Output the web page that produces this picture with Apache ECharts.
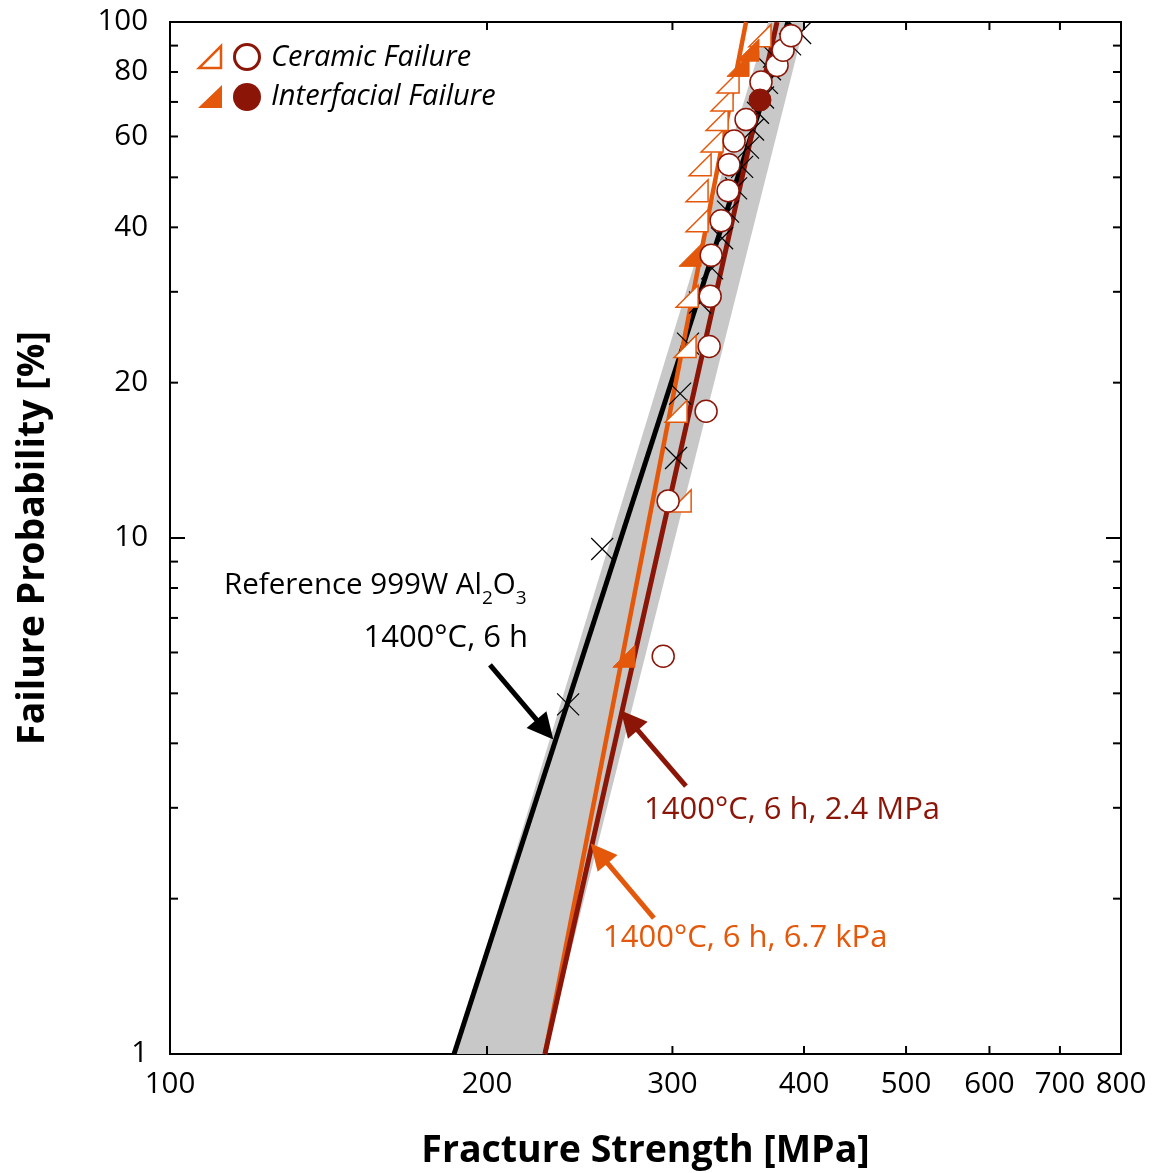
<!DOCTYPE html>
<html><head><meta charset="utf-8">
<script src="https://cdn.jsdelivr.net/npm/echarts@6/dist/echarts.min.js"></script>
<style>html,body{margin:0;padding:0;background:#fff}#c{width:1156px;height:1173px}</style>
</head><body><div id="c"></div>
<script>
// ---- axes ----
const xTickValues = [200, 300, 400, 500, 600, 700];
const xLabelValues = [100, 200, 300, 400, 500, 600, 700, 800];
const xLabelTexts = ['100', '200', '300', '400', '500', '600', '700', '800'];
const yMajorTicks = [10];
const yMinorTicks = [2, 3, 4, 5, 6, 7, 8, 9, 20, 30, 40, 50, 60, 70, 80, 90];
const yLabelValues = [1, 10, 20, 40, 60, 80, 100];
const yLabelTexts = ['1', '10', '20', '40', '60', '80', '100'];

// ---- data (strength MPa, failure probability %) ----
const triOpenStrength = [305.1, 302.4, 308.4, 309.8, 316.6, 316.6, 318.7, 327.2, 330.8, 334.4, 338.8, 363.3];
const triOpenProb     = [11.8, 17.6, 23.5, 29.4, 41.2, 47.1, 52.9, 58.8, 64.7, 70.6, 76.5, 94.1];
const triFilledStrength = [269.8, 311.8, 346.3, 353.9];
const triFilledProb     = [5.9, 35.3, 82.4, 88.2];
const circOpenStrength = [294.0, 297.2, 322.9, 325.1, 325.8, 326.5, 333.7, 338.8, 339.5, 343.3, 352.4, 364.1, 377.1, 382.1, 388.8];
const circOpenProb     = [5.9, 11.8, 17.6, 23.5, 29.4, 35.3, 41.2, 47.1, 52.9, 58.8, 64.7, 76.5, 82.4, 88.2, 94.1];
const circFilledStrength = [363.3];
const circFilledProb     = [70.6];
const refStrength = [238.8, 257.3, 302.4, 305.1, 310.4, 318.7, 327.2, 334.4, 338.8, 344.8, 349.4, 353.9, 357.8, 361.7, 365.7, 368.9, 371.3, 374.6, 388.0, 396.6];
const refProb     = [4.76, 9.52, 14.29, 19.05, 23.8, 28.6, 33.3, 38.1, 42.9, 47.6, 52.4, 57.1, 61.9, 66.7, 71.4, 76.2, 81.0, 85.7, 90.5, 95.2];

// fitted lines (end points)
const fitProb = [1, 100];
const refFitStrength = [186.1, 386.2];
const kpaFitStrength = [227.0, 352.4];
const mpaFitStrength = [227.0, 377.1];
const bandLeftStrength = [186.1, 369.8];
const bandRightStrength = [227.0, 400.9];

// annotation arrows [tail, head]
const refArrow = [[201.3, 5.675], [227.0, 4.254]];
const mpaArrow = [[309.0, 3.306], [273.0, 4.433]];
const kpaArrow = [[288.1, 1.834], [255.6, 2.448]];

const FONT = '"Open Sans", "Noto Sans", sans-serif';
const ORANGE = '#E4580B';
const DARKRED = '#8B1608';
const pairs = (a, b) => a.map((v, i) => [v, b[i]]);

const chart = echarts.init(document.getElementById('c'), null, {renderer: 'canvas'});

function xTickRender(params, api) {
  const cs = params.coordSys;
  const x = api.coord([api.value(0), 1])[0];
  const b = cs.y + cs.height, t = cs.y;
  return {type: 'group', children: [
    {type: 'line', shape: {x1: x, y1: b, x2: x, y2: b - 8}, style: {stroke: '#000', lineWidth: 2}},
    {type: 'line', shape: {x1: x, y1: t, x2: x, y2: t + 8}, style: {stroke: '#000', lineWidth: 2}}
  ]};
}
function xLabelRender(params, api) {
  const cs = params.coordSys;
  const x = api.coord([api.value(0), 1])[0];
  return {type: 'text', style: {text: xLabelTexts[params.dataIndex], x: x, y: cs.y + cs.height + 16,
    fill: '#000', fontSize: 29.5, fontFamily: FONT, align: 'center', verticalAlign: 'top'}};
}
function yTickRender(len) {
  return function (params, api) {
    const cs = params.coordSys;
    const y = api.coord([100, api.value(1)])[1];
    const l = cs.x, r = cs.x + cs.width;
    return {type: 'group', children: [
      {type: 'line', shape: {x1: l, y1: y, x2: l + len, y2: y}, style: {stroke: '#000', lineWidth: 2}},
      {type: 'line', shape: {x1: r, y1: y, x2: r - len, y2: y}, style: {stroke: '#000', lineWidth: 2}}
    ]};
  };
}
function yLabelRender(params, api) {
  const cs = params.coordSys;
  const y = api.coord([100, api.value(1)])[1];
  return {type: 'text', style: {text: yLabelTexts[params.dataIndex], x: cs.x - 22, y: y,
    fill: '#000', fontSize: 29.5, fontFamily: FONT, align: 'right', verticalAlign: 'middle'}};
}
function bandRender(params, api) {
  return {type: 'polygon', shape: {points: [
    api.coord([bandLeftStrength[0], fitProb[0]]),
    api.coord([bandLeftStrength[1], fitProb[1]]),
    api.coord([bandRightStrength[1], fitProb[1]]),
    api.coord([bandRightStrength[0], fitProb[0]])
  ]}, style: {fill: '#C8C8C8'}};
}

const triPath = 'path://M0,20 L20,20 L20,0 Z';
const xPath = 'path://M0,0 L20,20 M20,0 L0,20';

function arrowSeries(arr, color) {
  return {type: 'lines', coordinateSystem: 'cartesian2d', z: 6, silent: true,
    symbol: ['none', 'triangle'], symbolSize: [20, 26],
    lineStyle: {color: color, width: 5, opacity: 1},
    itemStyle: {color: color},
    data: [{coords: arr}]};
}

const option = {
  animation: false,
  backgroundColor: '#fff',
  grid: {left: 170, right: 35, top: 22, bottom: 119, show: true, borderColor: '#000', borderWidth: 2,
    containLabel: false, outerBoundsMode: 'none'},
  xAxis: {type: 'log', logBase: 10, min: 100, max: 800,
    axisLine: {show: false}, axisTick: {show: false}, axisLabel: {show: false}, splitLine: {show: false},
    name: 'Fracture Strength [MPa]', nameLocation: 'middle', nameGap: 78,
    nameTextStyle: {fontFamily: FONT, fontWeight: 'bold', fontSize: 37.5, color: '#000'}},
  yAxis: {type: 'log', logBase: 10, min: 1, max: 100,
    axisLine: {show: false}, axisTick: {show: false}, axisLabel: {show: false}, splitLine: {show: false},
    name: 'Failure Probability [%]', nameLocation: 'middle', nameGap: 118, nameRotate: 90,
    nameTextStyle: {fontFamily: FONT, fontWeight: 'bold', fontSize: 37.5, color: '#000'}},
  series: [
    {type: 'custom', z: 1, silent: true, data: [[bandLeftStrength[0], fitProb[0]]], renderItem: bandRender},
    {type: 'line', z: 2, silent: true, showSymbol: false, symbol: 'none', data: pairs(refFitStrength, fitProb),
      lineStyle: {color: '#000', width: 5}},
    {type: 'line', z: 2, silent: true, showSymbol: false, symbol: 'none', data: pairs(kpaFitStrength, fitProb),
      lineStyle: {color: ORANGE, width: 4.5}},
    {type: 'line', z: 2, silent: true, showSymbol: false, symbol: 'none', data: pairs(mpaFitStrength, fitProb),
      lineStyle: {color: DARKRED, width: 5}},
    {type: 'scatter', z: 3, silent: true, symbol: xPath, symbolSize: 22, data: pairs(refStrength, refProb),
      itemStyle: {color: 'rgba(0,0,0,0)', borderColor: '#000', borderWidth: 1.2, opacity: 1}},
    {type: 'scatter', z: 4, silent: true, symbol: triPath, symbolSize: 22, data: pairs(triOpenStrength, triOpenProb),
      itemStyle: {color: '#fff', borderColor: ORANGE, borderWidth: 1.5, opacity: 1}},
    {type: 'scatter', z: 4, silent: true, symbol: triPath, symbolSize: 22, data: pairs(triFilledStrength, triFilledProb),
      itemStyle: {color: ORANGE, borderColor: ORANGE, borderWidth: 1, opacity: 1}},
    {type: 'scatter', z: 5, silent: true, symbol: 'circle', symbolSize: 22, data: pairs(circOpenStrength, circOpenProb),
      itemStyle: {color: '#fff', borderColor: DARKRED, borderWidth: 1.5, opacity: 1}},
    {type: 'scatter', z: 5, silent: true, symbol: 'circle', symbolSize: 22, data: pairs(circFilledStrength, circFilledProb),
      itemStyle: {color: DARKRED, borderColor: DARKRED, borderWidth: 1, opacity: 1}},
    arrowSeries(refArrow, '#000'),
    arrowSeries(mpaArrow, DARKRED),
    arrowSeries(kpaArrow, ORANGE),
    {type: 'custom', z: 10, silent: true, clip: false, data: xTickValues.map(v => [v, 1]), renderItem: xTickRender},
    {type: 'custom', z: 10, silent: true, clip: false, data: xLabelValues.map(v => [v, 1]), renderItem: xLabelRender},
    {type: 'custom', z: 10, silent: true, clip: false, data: yMajorTicks.map(v => [100, v]), renderItem: yTickRender(15)},
    {type: 'custom', z: 10, silent: true, clip: false, data: yMinorTicks.map(v => [100, v]), renderItem: yTickRender(8)},
    {type: 'custom', z: 10, silent: true, clip: false, data: yLabelValues.map(v => [100, v]), renderItem: yLabelRender}
  ],
  graphic: [
    // legend
    {type: 'polygon', z: 20, shape: {points: [[199, 68], [221, 68], [221, 46]]}, style: {fill: '#fff', stroke: ORANGE, lineWidth: 2.5}},
    {type: 'circle', z: 20, shape: {cx: 247, cy: 57, r: 12.5}, style: {fill: '#fff', stroke: DARKRED, lineWidth: 3}},
    {type: 'text', z: 20, style: {text: 'Ceramic Failure', x: 271, y: 58, fill: '#000', fontSize: 29, fontStyle: 'italic', fontFamily: FONT, verticalAlign: 'middle'}},
    {type: 'polygon', z: 20, shape: {points: [[198, 108], [222, 108], [222, 85]]}, style: {fill: ORANGE}},
    {type: 'circle', z: 20, shape: {cx: 247, cy: 97, r: 14}, style: {fill: DARKRED}},
    {type: 'text', z: 20, style: {text: 'Interfacial Failure', x: 271, y: 97, fill: '#000', fontSize: 29, fontStyle: 'italic', fontFamily: FONT, verticalAlign: 'middle'}},
    // annotations
    {type: 'text', z: 20, style: {text: '{n|Reference 999W Al}{s|2}{n|O}{s|3}', x: 224, y: 586, verticalAlign: 'middle',
      rich: {n: {fontSize: 29.5, fontFamily: FONT, fill: '#000', color: '#000'}, s: {fontSize: 19, fontFamily: FONT, color: '#000', fill: '#000', padding: [26, 0, 0, 0]}}}},
    {type: 'text', z: 20, style: {text: '1400°C, 6 h', x: 528, y: 638, align: 'right', verticalAlign: 'middle', fill: '#000', fontSize: 31, fontFamily: FONT}},
    {type: 'text', z: 20, style: {text: '1400°C, 6 h, 2.4 MPa', x: 644, y: 810, verticalAlign: 'middle', fill: DARKRED, fontSize: 31, fontFamily: FONT}},
    {type: 'text', z: 20, style: {text: '1400°C, 6 h, 6.7 kPa', x: 603, y: 938, verticalAlign: 'middle', fill: ORANGE, fontSize: 31, fontFamily: FONT}}
  ]
};
chart.setOption(option);
</script>
</body></html>
